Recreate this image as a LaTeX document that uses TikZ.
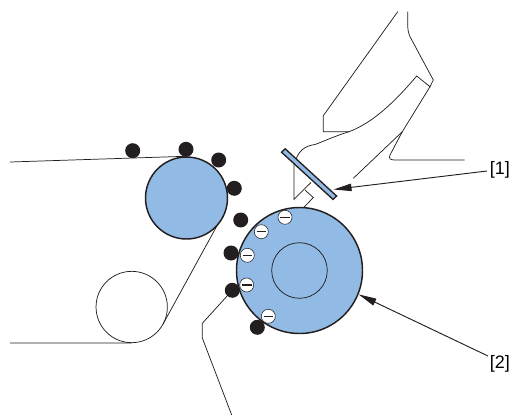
\documentclass[tikz,border=0pt]{standalone}
\usepackage{fontspec}
\setmainfont{Liberation Sans}
\usetikzlibrary{arrows.meta, calc}
\definecolor{DrumBlue}{RGB}{145,187,229}
\definecolor{InkBlack}{RGB}{35,31,32}
\tikzset{
    ball/.style={circle, fill=InkBlack, inner sep=0pt, minimum size=11.25pt},
    charge/.style={circle, draw=InkBlack, fill=white, line width=0.4pt, inner sep=0pt, minimum size=10.5pt,
        path picture={\draw[InkBlack, line width=0.9pt] ([xshift=-3.6pt]path picture bounding box.center) -- ([xshift=3.6pt]path picture bounding box.center);}},
    roller/.style={circle, draw=InkBlack, fill=DrumBlue, line width=1.1pt, inner sep=0pt},
    thinline/.style={draw=InkBlack, line width=0.55pt},
    leader/.style={draw=InkBlack, line width=0.7pt, -{Triangle[length=13.5pt,width=5.5pt]}}
}
\begin{document}
\begin{tikzpicture}[x=0.75pt, y=-0.75pt, every node/.style={font=\fontsize{13.5pt}{16pt}\selectfont}]
    \useasboundingbox (0,0) rectangle (510,415);
    % Sheet and rollers
    \node[roller, minimum size=61.5pt] (upper) at (186.5,198) {};
    \node[circle, thinline, minimum size=53.5pt, inner sep=0pt] (lower) at (131.7,307) {};
    \node[roller, minimum size=94.5pt] (drum) at (299.5,270.5) {};
    \node[circle, thinline, minimum size=41.7pt, inner sep=0pt] (core) at (299.5,270.5) {};
    \coordinate (sheetin) at (10,162);
    \coordinate (sheetout) at (10,343);
    \draw[thinline] (sheetin) -- (upper.north);
    \draw[thinline] (sheetout) -- (lower.south);
    \draw[thinline] ($(lower.center)+(29:35.7)$) -- ($(upper.center)+(41:41)$);
    % Toner
    \foreach \name/\px/\py in {a/132.7/150.7, b/186/149.3, c/218.7/160, d/234.3/188.3, e/240.7/220, f/231/253, g/232.3/290.3, h/257.3/327.3}
        \node[ball] (toner\name) at (\px,\py) {};
    \foreach \name/\px/\py in {a/285/217.3, b/261.3/231.7, c/247.3/255.3, d/246.7/285, e/268.3/316.3}
        \node[charge] (minus\name) at (\px,\py) {};
    % Toner label line
    \coordinate (bendone) at (202.3,323.3);
    \coordinate (bendtwo) at (202.3,338);
    \coordinate (leaderend) at (231.7,415);
    \draw[thinline] (tonerg) -- (bendone) -- (bendtwo) -- (leaderend);
    % Cartridge
    \draw[thinline] (397.7,11.7) -- (323.3,115.7) -- (323.3,131.7) -- (349,131.7);
    \draw[thinline] (407.7,11.7) -- (407.7,23.3) .. controls (407.7,29) and (408,32) .. (410,36.7) -- (433.3,80) -- (430,86.7) -- (416.7,76)
        .. controls (398,98) and (375,122) .. (349,131.7) .. controls (335,136) and (322,142) .. (315,144.5)
        .. controls (305,146) and (298,150) .. (294,165) -- (294,199.3) -- (311,182.5);
    \draw[thinline] (430,86.7) -- (402.3,131.7) -- (353.3,178.3);
    \draw[thinline] (402.3,131.7) -- (390,155) .. controls (388,159) and (391,160) .. (395,160) -- (464.7,160);
    \draw[thinline] (305,190) -- (313.3,197.5) -- (303.3,208);
    % Plate
    \draw[draw=InkBlack, fill=DrumBlue, line width=1pt] (281.5,152.2) -- (285.2,148.8) -- (336.6,196) -- (333,199.4) -- cycle;
    % Labels
    \node[anchor=west, inner sep=0pt] (labelone) at (489.5,169.7) {[1]};
    \node[anchor=west, inner sep=0pt] (labeltwo) at (489.5,364) {[2]};
    \coordinate (tipone) at (333.5,189.5);
    \coordinate (tipfrom) at (487,171);
    \coordinate (twofrom) at (488,356);
    \draw[leader] (tipfrom) -- (tipone);
    \draw[leader] (twofrom) -- (drum.-22);
\end{tikzpicture}
\end{document}
